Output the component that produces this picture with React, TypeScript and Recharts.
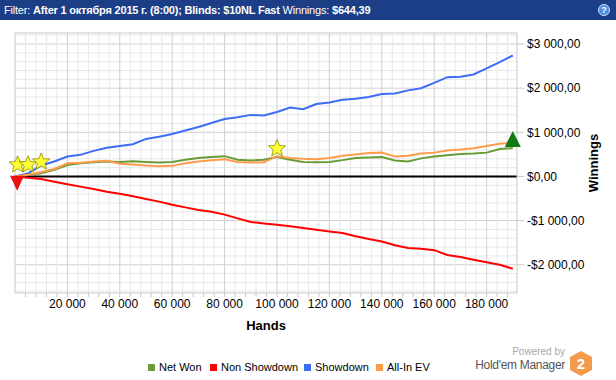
import { LineChart, Line, XAxis, YAxis, ReferenceLine, ReferenceDot, Label } from 'recharts';

const hands = [
  0, 5000, 10000, 15000, 20000, 25000, 30000, 35000, 40000, 45000, 50000, 55000, 60000,
  65000, 70000, 75000, 80000, 85000, 90000, 95000, 100000, 105000, 110000, 115000, 120000,
  125000, 130000, 135000, 140000, 145000, 150000, 155000, 160000, 165000, 170000, 175000,
  180000, 185000, 190000,
];

const netWon = [
  0, 40, 70, 150, 260, 300, 320, 340, 330, 345, 330, 315, 330,
  380, 420, 440, 460, 380, 360, 380, 440, 380, 330, 320, 330,
  370, 420, 430, 440, 360, 340, 410, 450, 480, 510, 520,
  540, 620, 644,
];

const nonShowdown = [
  0, -30, -60, -120, -175, -230, -285, -345, -390, -450, -510, -570, -640,
  -700, -760, -800, -865, -950, -1030, -1065, -1095, -1130, -1170, -1205, -1245,
  -1280, -1355, -1415, -1475, -1560, -1620, -1640, -1670, -1780, -1825, -1885,
  -1945, -2000, -2090,
];

const showdown = [
  0, 70, 250, 340, 450, 490, 580, 650, 690, 730, 850, 900, 960,
  1040, 1120, 1210, 1300, 1340, 1395, 1380, 1460, 1560, 1525, 1640, 1675,
  1740, 1760, 1800, 1870, 1880, 1950, 2000, 2120, 2250, 2260, 2310,
  2450, 2590, 2740,
];

const allInEV = [
  0, 40, 100, 170, 300, 310, 340, 355, 290, 270, 250, 230, 240,
  300, 340, 370, 390, 330, 315, 320, 460, 420, 400, 390, 420,
  470, 500, 530, 540, 450, 470, 520, 540, 590, 610, 640,
  690, 740, 760,
];

const starMarks = [
  { hands: 1000, value: 265 },
  { hands: 5000, value: 265 },
  { hands: 10000, value: 330 },
  { hands: 100000, value: 630 },
];
const lowMark = { hands: 800, value: -145 };
const highMark = { hands: 190000, value: 850 };

const yTicks = [-2000, -1000, 0, 1000, 2000, 3000];
const yMinor = Array.from({ length: 30 }, (_, i) => -2600 + i * 200);
const xMinor = Array.from({ length: 47 }, (_, i) => 4000 + i * 4000);
const X_MAX = 191600;
const Y_MIN = -2640;
const Y_MAX = 3250;

const series = [
  { key: 'netWon', name: 'Net Won', color: '#6b9b37' },
  { key: 'nonShowdown', name: 'Non Showdown', color: '#ff0000' },
  { key: 'showdown', name: 'Showdown', color: '#3e6cf4' },
  { key: 'allInEV', name: 'All-In EV', color: '#ff9c4c' },
];
const legendLeft = [148, 210, 304, 376];

const data = hands.map((h, i) => ({
  hands: h,
  netWon: netWon[i],
  nonShowdown: nonShowdown[i],
  showdown: showdown[i],
  allInEV: allInEV[i],
}));

const fmtNum = (n: number) => String(Math.abs(n)).replace(/\B(?=(\d{3})+(?!\d))/g, ' ');
const fmtMoney = (v: number) => `${v < 0 ? '-' : ''}$${fmtNum(v)},00`;

const Star = (props: any) => {
  const { cx, cy } = props;
  const pts: string[] = [];
  for (let i = 0; i < 10; i++) {
    const r = i % 2 === 0 ? 9 : 4;
    const a = -Math.PI / 2 + (i * Math.PI) / 5;
    pts.push(`${cx + r * Math.cos(a)},${cy + r * Math.sin(a)}`);
  }
  return <polygon points={pts.join(' ')} fill="#ffff33" stroke="#8a8a00" strokeWidth={0.8} />;
};

const DownTri = (props: any) => {
  const { cx, cy } = props;
  return <polygon points={`${cx - 7},${cy - 7} ${cx + 7},${cy - 7} ${cx},${cy + 8}`} fill="#e81010" />;
};

const UpTri = (props: any) => {
  const { cx, cy } = props;
  return <polygon points={`${cx - 8},${cy + 8} ${cx + 8},${cy + 8} ${cx},${cy - 8}`} fill="#127a12" />;
};

export default function App() {
  return (
    <div style={{ position: 'absolute', left: 0, top: 0, width: 616, height: 380, background: '#fff', fontFamily: '"Liberation Sans", Arial, sans-serif', overflow: 'hidden' }}>
      <div style={{ position: 'absolute', left: 0, top: 0, width: 616, height: 20, background: '#1b3e86', color: '#fff', fontSize: 11, lineHeight: '20px', whiteSpace: 'nowrap', letterSpacing: -0.2 }}>
        <span style={{ marginLeft: 4 }}>Filter: </span>
        <b>After 1 октября 2015 г. (8:00); Blinds: $10NL Fast</b>
        <span> Winnings: </span>
        <b>$644,39</b>
        <div style={{ position: 'absolute', right: 6, top: 4, width: 12, height: 12, borderRadius: 6, background: '#4a8ee0', border: '1px solid #cfe2fb', boxSizing: 'border-box', color: '#fff', fontSize: 9, fontWeight: 'bold', lineHeight: '10px', textAlign: 'center' }}>?</div>
      </div>

      <div style={{ position: 'absolute', left: 0, top: 0 }}>
        <LineChart width={616} height={380} data={data} margin={{ top: 33, right: 0, bottom: 47, left: 15 }}>
          <XAxis
            dataKey="hands"
            type="number"
            domain={[0, X_MAX]}
            ticks={xMinor}
            interval={0}
            tickFormatter={(v: number) => (v % 20000 === 0 ? fmtNum(v) : '')}
            tick={{ fill: '#000', fontSize: 12 }}
            tickSize={4}
            tickMargin={2}
            stroke="#c8c8c8"
            height={40}
          >
            <Label
              content={(p: any) => (
                <text x={p.viewBox.x + p.viewBox.width / 2} y={p.viewBox.y + 37} textAnchor="middle" fontSize={13} fontWeight="bold" fill="#000">
                  Hands
                </text>
              )}
            />
          </XAxis>
          <YAxis
            orientation="right"
            type="number"
            domain={[Y_MIN, Y_MAX]}
            ticks={yTicks}
            tickFormatter={fmtMoney}
            tick={{ fill: '#000', fontSize: 12 }}
            tickSize={7}
            tickMargin={3}
            stroke="#c8c8c8"
            width={99}
          >
            <Label
              content={(p: any) => {
                const x = p.viewBox.x + 76;
                const y = p.viewBox.y + p.viewBox.height / 2;
                return (
                  <text x={x} y={y} transform={`rotate(-90 ${x} ${y})`} textAnchor="middle" dominantBaseline="central" fontSize={13} fontWeight="bold" fill="#000">
                    Winnings
                  </text>
                );
              }}
            />
          </YAxis>

          {yMinor.map((v) => (
            <ReferenceLine key={`h${v}`} y={v} stroke={v % 1000 === 0 ? '#cfcfcf' : '#e8e8e8'} strokeWidth={1} />
          ))}
          {xMinor.map((v) => (
            <ReferenceLine key={`v${v}`} x={v} stroke={v % 20000 === 0 ? '#cfcfcf' : '#e8e8e8'} strokeWidth={1} />
          ))}
          <ReferenceLine x={0} stroke="#c8c8c8" />
          <ReferenceLine y={Y_MAX} stroke="#c8c8c8" />
          <ReferenceLine y={0} stroke="#000" strokeWidth={2} />

          {series.map((s) => (
            <Line
              key={s.key}
              type="linear"
              dataKey={s.key}
              name={s.name}
              stroke={s.color}
              strokeWidth={2}
              dot={false}
              isAnimationActive={false}
            />
          ))}

          {starMarks.map((m, i) => (
            <ReferenceDot key={`s${i}`} x={m.hands} y={m.value} shape={Star} />
          ))}
          <ReferenceDot x={lowMark.hands} y={lowMark.value} shape={DownTri} />
          <ReferenceDot x={highMark.hands} y={highMark.value} shape={UpTri} />
        </LineChart>
      </div>

      <div style={{ position: 'absolute', left: 0, top: 359, width: 616, height: 16, fontSize: 11, color: '#000', whiteSpace: 'nowrap' }}>
        {series.map((s, i) => (
          <div key={s.key} style={{ position: 'absolute', left: legendLeft[i], top: 0, display: 'flex', alignItems: 'center', height: 16 }}>
            <span style={{ display: 'inline-block', width: 7, height: 7, background: s.color, marginRight: 4 }} />
            <span>{s.name}</span>
          </div>
        ))}
      </div>

      <div style={{ position: 'absolute', right: 51, top: 346, fontSize: 10, color: '#a8a8a8', textAlign: 'right', whiteSpace: 'nowrap' }}>Powered by</div>
      <div style={{ position: 'absolute', right: 51, top: 358, fontSize: 12, color: '#555', textAlign: 'right', whiteSpace: 'nowrap', letterSpacing: -0.3 }}>Hold'em Manager</div>
      <svg style={{ position: 'absolute', left: 569, top: 351 }} width={24} height={25}>
        <polygon points="12,0 23,6 23,19 12,25 1,19 1,6" fill="#f39a4c" />
        <text x={12} y={18} textAnchor="middle" fontSize={15} fontWeight="bold" fill="#fff" fontFamily='"Liberation Sans", Arial, sans-serif'>2</text>
      </svg>
    </div>
  );
}
